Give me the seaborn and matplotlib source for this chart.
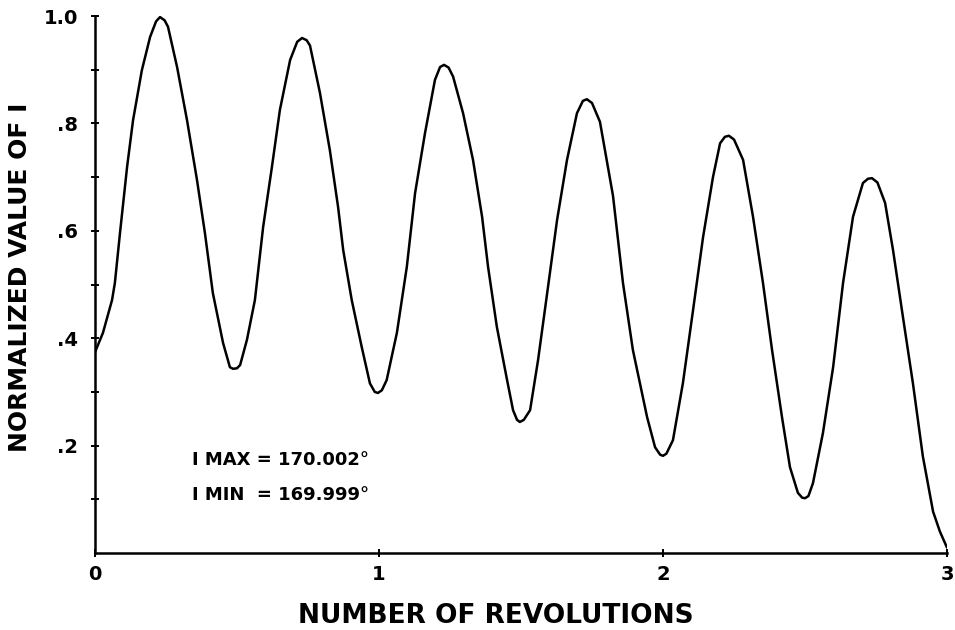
import matplotlib
matplotlib.use("Agg")
import matplotlib.pyplot as plt
import seaborn as sns
import pandas as pd
from matplotlib.ticker import FixedLocator, FixedFormatter

# ---- data ----
revolutions = [
    0.000, 0.028, 0.060, 0.070, 0.088, 0.113, 0.134, 0.165, 0.194, 0.215,
    0.229, 0.245, 0.257, 0.289, 0.324, 0.359, 0.387, 0.415, 0.451, 0.475,
    0.486, 0.500, 0.511, 0.535, 0.563, 0.592, 0.623, 0.651, 0.687, 0.712,
    0.729, 0.745, 0.757, 0.792, 0.827, 0.856, 0.874, 0.904, 0.939, 0.968,
    0.985, 0.996, 1.010, 1.027, 1.063, 1.098, 1.127, 1.162, 1.197, 1.215,
    1.229, 1.245, 1.261, 1.296, 1.331, 1.363, 1.384, 1.415, 1.451, 1.472,
    1.486, 1.496, 1.510, 1.532, 1.560, 1.595, 1.627, 1.662, 1.697, 1.718,
    1.732, 1.750, 1.778, 1.824, 1.859, 1.894, 1.944, 1.972, 1.990, 2.000,
    2.012, 2.035, 2.070, 2.106, 2.141, 2.176, 2.201, 2.218, 2.232, 2.250,
    2.282, 2.317, 2.352, 2.384, 2.419, 2.447, 2.475, 2.490, 2.500, 2.512,
    2.528, 2.563, 2.599, 2.634, 2.669, 2.704, 2.722, 2.736, 2.755, 2.782,
    2.810, 2.845, 2.880, 2.915, 2.951, 2.975, 3.000,
]
normalized_i = [
    0.374, 0.410, 0.471, 0.503, 0.596, 0.719, 0.806, 0.899, 0.961, 0.990,
    0.998, 0.992, 0.980, 0.905, 0.806, 0.695, 0.596, 0.484, 0.391, 0.346,
    0.343, 0.344, 0.350, 0.397, 0.471, 0.607, 0.719, 0.825, 0.918, 0.952,
    0.959, 0.955, 0.945, 0.857, 0.750, 0.644, 0.564, 0.471, 0.384, 0.316,
    0.300, 0.298, 0.303, 0.322, 0.410, 0.533, 0.670, 0.782, 0.881, 0.905,
    0.909, 0.904, 0.887, 0.819, 0.732, 0.626, 0.533, 0.421, 0.322, 0.266,
    0.248, 0.244, 0.248, 0.266, 0.359, 0.495, 0.620, 0.732, 0.819, 0.842,
    0.845, 0.838, 0.803, 0.665, 0.503, 0.378, 0.253, 0.197, 0.183, 0.181,
    0.185, 0.210, 0.316, 0.453, 0.588, 0.700, 0.763, 0.775, 0.777, 0.770,
    0.732, 0.626, 0.503, 0.378, 0.253, 0.160, 0.112, 0.103, 0.102, 0.106,
    0.130, 0.223, 0.346, 0.503, 0.626, 0.689, 0.697, 0.698, 0.690, 0.652,
    0.564, 0.439, 0.316, 0.180, 0.077, 0.040, 0.010,
]

x_ticks = [0, 1, 2, 3]
x_tick_labels = ["0", "1", "2", "3"]
y_ticks = [0.2, 0.4, 0.6, 0.8, 1.0]
y_tick_labels = [".2", ".4", ".6", ".8", "1.0"]
y_minor_ticks = [0.1, 0.3, 0.5, 0.7, 0.9]

x_label = "NUMBER OF REVOLUTIONS"
y_label = "NORMALIZED VALUE OF I"
note_lines = ["I MAX = 170.002°", "I MIN  = 169.999°"]

df = pd.DataFrame({"rev": revolutions, "val": normalized_i})

sns.set_style("ticks")
plt.rcParams["font.family"] = ["DejaVu Sans"]
plt.rcParams["text.color"] = "black"
plt.rcParams["axes.labelcolor"] = "black"
plt.rcParams["xtick.color"] = "black"
plt.rcParams["ytick.color"] = "black"
plt.rcParams["lines.solid_joinstyle"] = "round"

fig = plt.figure(figsize=(9.55, 6.3), dpi=100)
ax = fig.add_axes([95 / 955, 77 / 630, 852 / 955, 537 / 630])

sns.lineplot(data=df, x="rev", y="val", ax=ax, color="black", linewidth=1.8,
             sort=False, estimator=None)

ax.set_xlim(0, 3)
ax.set_ylim(0, 1.0)
sns.despine(ax=ax)
for s in ("left", "bottom"):
    ax.spines[s].set_linewidth(1.8)
    ax.spines[s].set_color("black")

ax.xaxis.set_major_locator(FixedLocator(x_ticks))
ax.xaxis.set_major_formatter(FixedFormatter(x_tick_labels))
ax.yaxis.set_major_locator(FixedLocator(y_ticks))
ax.yaxis.set_major_formatter(FixedFormatter(y_tick_labels))
ax.yaxis.set_minor_locator(FixedLocator(y_minor_ticks))

ax.tick_params(axis="both", which="both", direction="inout", length=6,
               width=1.4, color="black", labelcolor="black")
ax.tick_params(axis="y", which="major", pad=9, labelsize=14)
ax.tick_params(axis="x", which="major", pad=6, labelsize=14)
for lab in ax.get_xticklabels() + ax.get_yticklabels():
    lab.set_fontweight("bold")

ax.set_xlabel(x_label, fontsize=19, fontweight="bold", color="black")
ax.set_ylabel(y_label, fontsize=18, fontweight="bold", color="black")
ax.xaxis.set_label_coords(0.471, -0.093)
ax.yaxis.set_label_coords(-0.074, 0.514)

ax.text(0.34, 0.173, note_lines[0], fontsize=13, fontweight="bold",
        va="center", ha="left", color="black")
ax.text(0.34, 0.108, note_lines[1], fontsize=13, fontweight="bold",
        va="center", ha="left", color="black")

fig.savefig("out.png", dpi=100, facecolor="white")
